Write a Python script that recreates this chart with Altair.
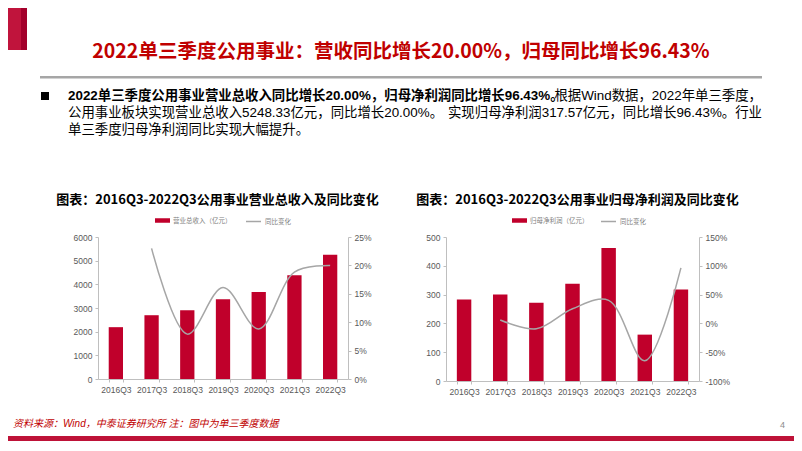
import altair as alt
import pandas as pd

# ---------------- data ----------------
quarters = ["2016Q3", "2017Q3", "2018Q3", "2019Q3", "2020Q3", "2021Q3", "2022Q3"]
revenue = [2190, 2695, 2905, 3370, 3680, 4385, 5248.33]
revenue_yoy = [None, 0.230, 0.079, 0.161, 0.088, 0.188, 0.2000]
profit = [283, 300, 272, 338, 462, 161, 317.57]
profit_yoy = [None, 0.060, -0.093, 0.255, 0.400, -0.650, 0.9643]

rev_left_ticks = [0, 1000, 2000, 3000, 4000, 5000, 6000]
rev_right_ticks = [0, 0.05, 0.10, 0.15, 0.20, 0.25]
prof_left_ticks = [0, 100, 200, 300, 400, 500]
prof_right_ticks = [-1.0, -0.5, 0.0, 0.5, 1.0, 1.5]

main_title = "2022单三季度公用事业：营收同比增长20.00%，归母同比增长96.43%"
para_line1_bold = "2022单三季度公用事业营业总收入同比增长20.00%，归母净利润同比增长96.43%。"
para_line1_rest = "根据Wind数据，2022年单三季度，"
para_line2_a = "公用事业板块实现营业总收入5248.33亿元，同比增长20.00%。"
para_line2_b = "实现归母净利润317.57亿元，同比增长96.43%。行业"
para_line3 = "单三季度归母净利润同比实现大幅提升。"
chart1_title = "图表：2016Q3-2022Q3公用事业营业总收入及同比变化"
chart2_title = "图表：2016Q3-2022Q3公用事业归母净利润及同比变化"
rev_bar_name = "营业总收入（亿元）"
prof_bar_name = "归母净利润（亿元）"
yoy_name = "同比变化"
source_note = "资料来源：Wind，中泰证券研究所 注：图中为单三季度数据"
page_no = "4"

# ---------------- styles ----------------
RED = "#C0002B"
TITLE_RED = "#C00000"
LINE_GRAY = "#A6A6A6"
AXIS_GRAY = "#BFBFBF"
LABEL_GRAY = "#595959"
CJK = "Noto Sans CJK SC"
MIX = "Liberation Sans, Noto Sans CJK SC"
LAT = "Liberation Sans"
PARA = 13.4

# page position of chart-1 plot origin
OX, OY = 98, 237


def px(x):
    return x - OX


def py(y):
    return y - OY


one = pd.DataFrame({"k": [0]})


def rect(x1, y1, x2, y2, color, opacity=1):
    return alt.Chart(one).mark_rect(color=color, opacity=opacity).encode(
        x=alt.value(px(x1)), x2=alt.value(px(x2)),
        y=alt.value(py(y1)), y2=alt.value(py(y2)))


def text(s, x, y, size, color="#000000", weight="normal", align="left",
         style="normal", font=CJK):
    return alt.Chart(one).mark_text(
        text=s, font=font, fontSize=size, fontWeight=weight, fontStyle=style,
        color=color, align=align, baseline="middle").encode(
        x=alt.value(px(x)), y=alt.value(py(y)))


MINUS_FIX = "replace(format(datum.value, '.0%'), '\u2212', '-')"


def axis_y(vals, orient, pct=False):
    kw = dict(values=vals, title=None, grid=False, orient=orient,
              labelFont=LAT, labelFontSize=8.5, labelColor=LABEL_GRAY,
              domainColor=AXIS_GRAY, tickColor=AXIS_GRAY, tickSize=3,
              labelPadding=3, zindex=1)
    if pct:
        kw["labelExpr"] = MINUS_FIX
    else:
        kw["format"] = "d"
    return alt.Axis(**kw)


def x_enc():
    return alt.X("q:N", sort=quarters, title=None,
                 scale=alt.Scale(paddingInner=0.6, paddingOuter=0.3),
                 axis=alt.Axis(labelAngle=0, labelFont=LAT, labelFontSize=8.5,
                               labelColor=LABEL_GRAY, domainColor=AXIS_GRAY,
                               tickColor=AXIS_GRAY, tickSize=3, tickBand="extent",
                               labelPadding=3, zindex=1))


def legend(sym, lx, ly, stroke_w):
    return alt.Legend(orient="none", legendX=lx, legendY=ly, title=None,
                      labelFont=CJK, labelFontSize=6.5, labelColor="#808080",
                      symbolType=sym, symbolSize=225, symbolStrokeWidth=stroke_w,
                      labelOffset=3, padding=0)


def panel(values, yoy, bar_name, ldom, lvals, rdom, rvals, lfx, lsx):
    df = pd.DataFrame({"q": quarters, "v": values, "yoy": yoy,
                       "s": bar_name, "t": yoy_name})
    bars = alt.Chart(df).mark_bar().encode(
        x=x_enc(),
        y=alt.Y("v:Q", scale=alt.Scale(domain=ldom, nice=False, zero=False),
                axis=axis_y(lvals, "left")),
        color=alt.Color("s:N", scale=alt.Scale(domain=[bar_name], range=[RED]),
                        legend=legend("M-1,-0.3L1,-0.3L1,0.3L-1,0.3Z", lfx, -24, 0)),
    )
    line = alt.Chart(df).transform_filter("isValid(datum.yoy)").mark_line(
        interpolate="catmull-rom", strokeWidth=1.5).encode(
        x=x_enc(),
        y=alt.Y("yoy:Q", scale=alt.Scale(domain=rdom, nice=False, zero=False),
                axis=axis_y(rvals, "right", pct=True)),
        stroke=alt.Stroke("t:N", scale=alt.Scale(domain=[yoy_name], range=[LINE_GRAY]),
                          legend=legend("stroke", lsx, -24, 1.5)),
    )
    return bars, line


bars1, line1 = panel(revenue, revenue_yoy, rev_bar_name, [0, 6000], rev_left_ticks,
                     [0, 0.25], rev_right_ticks, 57, 147)
bars2, line2 = panel(profit, profit_yoy, prof_bar_name, [0, 500], prof_left_ticks,
                     [-1.0, 1.5], prof_right_ticks, 66, 154)

decor = [
    rect(8, 8, 794, 443, "#FFFFFF", opacity=0),
    rect(8, 8, 21, 50, "#C0143C"),
    rect(21, 8, 27, 50, "#A3002B"),
    text(main_title, 401, 52, 19.5, color=TITLE_RED, weight="bold", align="center"),
    rect(40, 76, 762, 78.5, LINE_GRAY),
    rect(41, 92, 49, 100, "#000000"),
    text(para_line1_bold, 68, 96, PARA, weight="bold", font=MIX),
    text(para_line1_rest, 762, 96, PARA, align="right", font=MIX),
    text(para_line2_a, 68, 113, PARA, font=MIX),
    text(para_line2_b, 762, 113, PARA, align="right", font=MIX),
    text(para_line3, 68, 130, PARA, font=MIX),
    text(chart1_title, 217.5, 200, 13, weight="bold", align="center"),
    text(chart2_title, 577.5, 200, 13, weight="bold", align="center"),
    text(source_note, 13, 424, 10, color=TITLE_RED, style="italic", font=MIX),
    text(page_no, 780, 425, 9, color="#8C8C8C", font=LAT),
    rect(8, 436, 794, 441, "#BE1238"),
]

c1 = alt.layer(bars1, line1, *decor).resolve_scale(y="independent").properties(
    width=250, height=142)
c2 = alt.layer(bars2, line2).resolve_scale(y="independent").properties(
    width=253, height=144)

chart = alt.hconcat(c1, c2, spacing=98, bounds="flush").resolve_scale(
    color="independent", stroke="independent").properties(padding=0).configure_view(
    strokeWidth=0)

chart.save("out.html", embed_options={"renderer": "svg", "actions": False})
